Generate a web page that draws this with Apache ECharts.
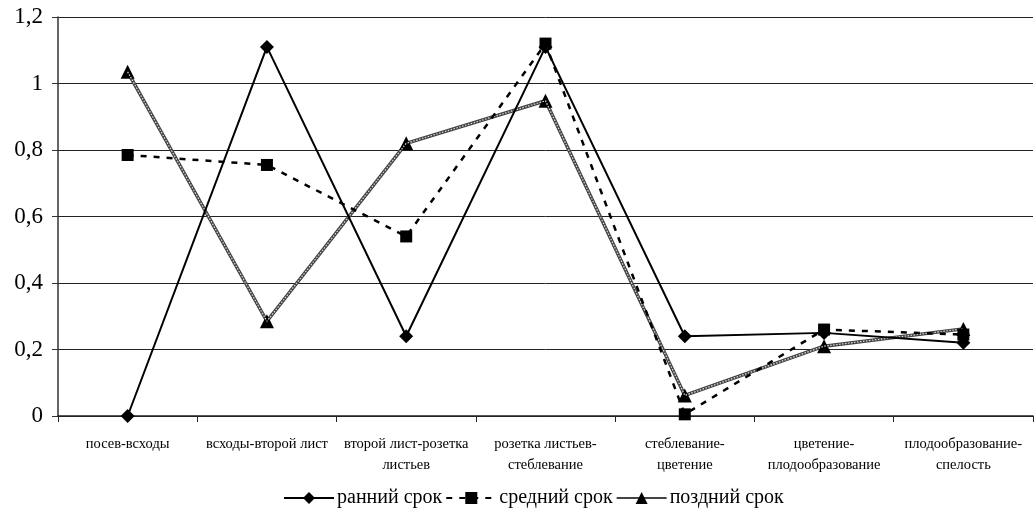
<!DOCTYPE html>
<html>
<head>
<meta charset="utf-8">
<script src="https://cdn.jsdelivr.net/npm/echarts@6/dist/echarts.min.js"></script>
<style>
  html, body { margin: 0; padding: 0; background: #fff; }
  #chart { width: 1035px; height: 520px; }
</style>
</head>
<body>
<div id="chart"></div>
<script>
// Межфазные периоды развития
const categories = [
  'посев-всходы',
  'всходы-второй лист',
  'второй лист-розетка\nлистьев',
  'розетка листьев-\nстеблевание',
  'стеблевание-\nцветение',
  'цветение-\nплодообразование',
  'плодообразование-\nспелость'
];

const earlyTerm = [0, 1.11, 0.24, 1.11, 0.24, 0.25, 0.22];
const midTerm   = [0.785, 0.755, 0.54, 1.12, 0.005, 0.26, 0.245];
const lateTerm  = [1.035, 0.285, 0.82, 0.948, 0.062, 0.21, 0.262];

const seriesNames = ['ранний срок', 'средний срок', 'поздний срок'];
const yTicks = { min: 0, max: 1.2, interval: 0.2 };

const FONT = '"Liberation Serif", "DejaVu Serif", serif';

const chart = echarts.init(document.getElementById('chart'), null, { renderer: 'canvas' });

chart.setOption({
  animation: false,
  backgroundColor: '#fff',
  textStyle: { fontFamily: FONT, color: '#000' },
  grid: { left: 58, right: 2, top: 17, bottom: 104, containLabel: false },
  legend: {
    bottom: 7,
    left: 278,
    itemGap: 3,
    itemWidth: 50,
    itemHeight: 15,
    textStyle: { fontFamily: FONT, fontSize: 20, color: '#000', padding: [0, 0, 0, -2] },
    data: seriesNames
  },
  xAxis: {
    type: 'category',
    data: categories,
    boundaryGap: true,
    axisLine: { lineStyle: { color: '#222', width: 1.5 } },
    axisTick: { show: true, alignWithLabel: false, length: 6, lineStyle: { color: '#222' } },
    axisLabel: {
      interval: 0,
      fontFamily: FONT,
      fontSize: 14.5,
      color: '#000',
      margin: 18,
      lineHeight: 21
    }
  },
  yAxis: {
    type: 'value',
    min: yTicks.min,
    max: yTicks.max,
    interval: yTicks.interval,
    axisLine: { show: true, lineStyle: { color: '#333', width: 1.5 } },
    axisTick: { show: true, length: 6, lineStyle: { color: '#333' } },
    splitLine: { show: true, lineStyle: { color: '#222', width: 1 } },
    axisLabel: {
      fontFamily: FONT,
      fontSize: 23,
      color: '#000',
      margin: 15,
      formatter: v => String(Math.round(v * 10) / 10).replace('.', ',')
    }
  },
  series: [
    {
      name: seriesNames[0],
      type: 'line',
      data: earlyTerm,
      symbol: 'diamond',
      symbolSize: 14,
      itemStyle: { color: '#000' },
      lineStyle: { color: '#000', width: 2 },
      z: 4
    },
    {
      name: seriesNames[1],
      type: 'line',
      data: midTerm,
      symbol: 'rect',
      symbolSize: 12,
      itemStyle: { color: '#000' },
      lineStyle: { color: '#000', width: 2.5, type: [6, 7] },
      z: 3
    },
    {
      name: seriesNames[2],
      type: 'line',
      data: lateTerm,
      symbol: 'triangle',
      symbolSize: 14,
      itemStyle: { color: '#000' },
      lineStyle: { color: '#444', width: 3.5 },
      z: 2
    },
    {
      // light hatch over the late-term line
      name: seriesNames[2] + ' (штрих)',
      type: 'line',
      data: lateTerm,
      symbol: 'none',
      silent: true,
      lineStyle: { color: '#dcdcdc', width: 1.2, type: [1.5, 1.5] },
      z: 2.5
    }
  ]
});
</script>
</body>
</html>
